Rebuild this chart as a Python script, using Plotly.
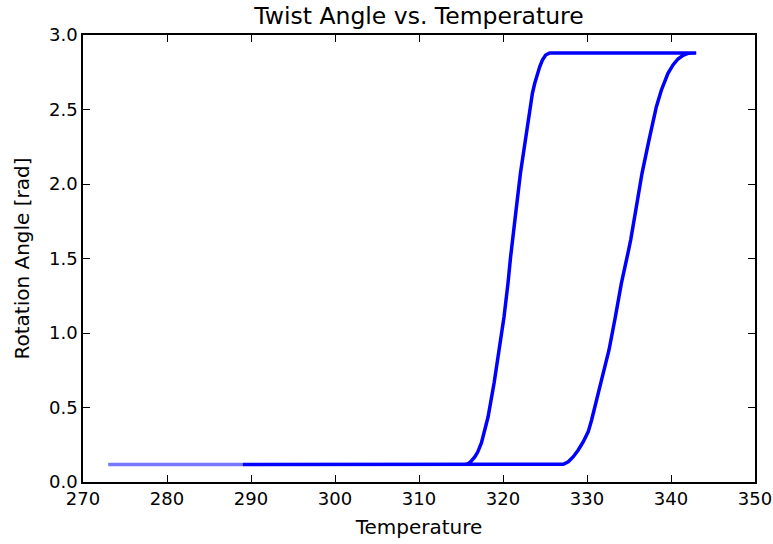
import plotly.graph_objects as go

# Heating branch: temperature [K] and rotation angle [rad]
heat_T = [289.0, 300.0, 310.0, 320.0, 327.18, 327.77, 328.37, 328.96, 329.56, 330.15,
          330.55, 331.63, 332.62, 333.38, 334.09, 334.85, 335.20, 335.88, 336.55,
          337.38, 338.26, 338.86, 339.64, 340.24, 340.83, 341.43, 342.03, 343.0]
heat_theta = [0.117, 0.117, 0.117, 0.117, 0.119, 0.136, 0.170, 0.215, 0.270, 0.338,
              0.416, 0.662, 0.886, 1.109, 1.333, 1.530, 1.624, 1.848, 2.072,
              2.295, 2.519, 2.631, 2.743, 2.799, 2.839, 2.864, 2.877, 2.88]

# Cooling branch
cool_T = [343.0, 335.0, 330.0, 325.56, 325.08, 324.69, 324.37, 324.10, 323.78, 323.50,
          323.26, 322.94, 322.59, 322.08, 321.60, 321.08, 320.89, 320.60, 320.12,
          319.53, 318.94, 318.22, 317.43, 316.99, 316.64, 316.22, 315.84, 315.45,
          310.0, 300.0, 289.0]
cool_theta = [2.88, 2.88, 2.88, 2.88, 2.866, 2.832, 2.787, 2.743, 2.676, 2.609,
              2.519, 2.430, 2.295, 2.074, 1.846, 1.624, 1.503, 1.336, 1.107,
              0.886, 0.664, 0.436, 0.262, 0.201, 0.168, 0.141, 0.121, 0.117,
              0.117, 0.117, 0.117]

# Initial warm-up segment
start_T = [273.0, 289.0]
start_theta = [0.117, 0.117]

x_ticks = [270, 280, 290, 300, 310, 320, 330, 340, 350]
y_ticks = [0.0, 0.5, 1.0, 1.5, 2.0, 2.5, 3.0]

font = "DejaVu Sans"

fig = go.Figure()
fig.add_trace(go.Scatter(x=start_T, y=start_theta, mode="lines",
                         line=dict(color="rgb(120,120,255)", width=3.5),
                         showlegend=False, hoverinfo="skip"))
fig.add_trace(go.Scatter(x=heat_T + cool_T, y=heat_theta + cool_theta, mode="lines",
                         line=dict(color="rgb(0,0,255)", width=3.5),
                         showlegend=False))

axis_common = dict(
    showgrid=False, zeroline=False, showline=True, linecolor="black", linewidth=1.5,
    mirror="ticks", ticks="inside", ticklen=7, tickwidth=1, tickcolor="black",
    tickfont=dict(family=font, size=18, color="black"), automargin=False,
)

fig.update_layout(
    width=773, height=544,
    margin=dict(l=83, r=18, t=35, b=62),
    paper_bgcolor="white", plot_bgcolor="white",
    title=dict(text="Twist Angle vs. Temperature", x=0.5, xanchor="center",
               xref="paper", y=1 - 16 / 544, yref="container", yanchor="middle",
               font=dict(family=font, size=23.5, color="black")),
    xaxis=dict(range=[270, 350], tickvals=x_ticks, ticktext=[str(v) for v in x_ticks],
               title=dict(text="Temperature", font=dict(family=font, size=20, color="black"),
                          standoff=12),
               **axis_common),
    yaxis=dict(range=[0, 3.0], tickvals=y_ticks, ticktext=[f"{v:.1f}" for v in y_ticks],
               title=dict(text="Rotation Angle [rad]", font=dict(family=font, size=20, color="black"),
                          standoff=14),
               **axis_common),
)

fig.write_html("out.html")
